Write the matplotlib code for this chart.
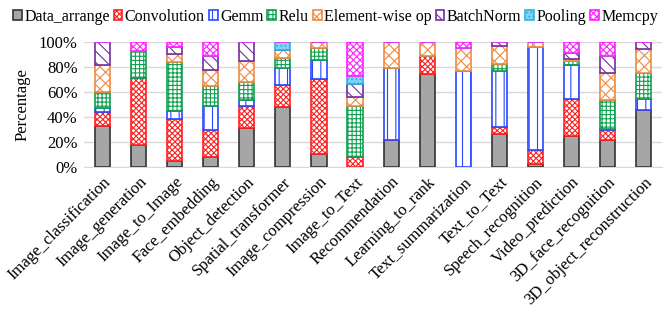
import matplotlib.pyplot as plt
import matplotlib.font_manager as fm
import numpy as np

# use a Times-like font; load the file directly in case the name lookup misses it
serif_name = 'Liberation Serif'
for p in fm.findSystemFonts():
    if 'LiberationSerif-Regular' in p:
        fm.fontManager.addfont(p)
        serif_name = fm.FontProperties(fname=p).get_name()
        break
plt.rcParams['font.family'] = [serif_name, 'DejaVu Serif']
plt.rcParams['hatch.linewidth'] = 0.8

apps = ['Image_classification', 'Image_generation', 'Image_to_Image', 'Face_embedding',
        'Object_detection', 'Spatial_transformer', 'Image_compression', 'Image_to_Text',
        'Recommendation', 'Learning_to_rank', 'Text_summarization', 'Text_to_Text',
        'Speech_recognition', 'Video_prediction', '3D_face_recognition',
        '3D_object_reconstruction']

data_arrange = [33.0, 17.8, 4.5, 7.7, 30.9, 48.1, 10.4, 0.0, 21.3, 73.9, 0.0, 26.3, 2.4, 25.0, 21.3, 45.5]
convolution = [10.6, 52.9, 34.1, 21.6, 18.0, 17.1, 59.5, 8.0, 0.0, 14.9, 0.0, 5.3, 11.4, 29.5, 8.2, 0.0]
gemm = [3.7, 0.0, 6.1, 19.6, 4.8, 14.1, 15.5, 0.0, 58.0, 0.0, 76.9, 45.3, 82.2, 27.1, 1.1, 9.0]
relu = [12.8, 22.1, 39.1, 16.0, 14.4, 7.4, 9.6, 40.9, 0.0, 0.0, 0.0, 5.5, 0.0, 3.2, 22.9, 20.5]
elementwise = [21.6, 0.0, 6.1, 12.8, 16.5, 6.7, 5.0, 7.2, 20.7, 11.2, 18.3, 14.4, 4.0, 1.1, 21.2, 19.1]
batchnorm = [18.3, 0.0, 6.1, 11.1, 15.4, 0.0, 0.0, 9.9, 0.0, 0.0, 0.0, 3.2, 0.0, 4.8, 14.1, 5.9]
pooling = [0.0, 0.0, 0.0, 0.0, 0.0, 6.6, 0.0, 6.6, 0.0, 0.0, 0.0, 0.0, 0.0, 0.0, 0.0, 0.0]
memcpy = [0.0, 7.2, 4.0, 11.2, 0.0, 0.0, 0.0, 27.4, 0.0, 0.0, 4.8, 0.0, 0.0, 9.3, 11.2, 0.0]

series = [
    ('Data_arrange', data_arrange, '#a6a6a6', '#333333', None),
    ('Convolution', convolution, 'white', '#ff2020', 'xxxxxx'),
    ('Gemm', gemm, 'white', '#2848ff', '||'),
    ('Relu', relu, 'white', '#10a050', '++++'),
    ('Element-wise op', elementwise, 'white', '#f08a40', 'xxx'),
    ('BatchNorm', batchnorm, 'white', '#7030a0', '\\\\\\'),
    ('Pooling', pooling, '#7fd4f4', '#30b0e8', '....'),
    ('Memcpy', memcpy, 'white', '#ff20ff', 'xxxxx'),
]

fig = plt.figure(figsize=(6.65, 3.14), dpi=100)
ax = fig.add_axes([0.127, 0.468, 0.868, 0.399])

x = np.arange(len(apps))
bottom = np.zeros(len(apps))
for name, vals, fc, ec, hatch in series:
    v = np.array(vals) / 100.0
    ax.bar(x, v, 0.42, bottom=bottom, color=fc, edgecolor=ec, hatch=hatch,
           linewidth=1.2, label=name, zorder=3)
    bottom += v

ax.set_xlim(-0.5, 15.5)
ax.set_ylim(0, 1.0)
ax.set_yticks(np.arange(0, 1.01, 0.2))
ax.set_yticklabels(['0%', '20%', '40%', '60%', '80%', '100%'], fontsize=12)
ax.set_xticks(x)
ax.set_xticklabels(apps, rotation=45, ha='right', rotation_mode='anchor', fontsize=12)
ax.tick_params(length=0, pad=5)
ax.set_ylabel('Percentage', fontsize=12, labelpad=6)
ax.grid(axis='y', color='#d9d9d9', linewidth=1, zorder=0)
for s in ['top', 'right', 'left']:
    ax.spines[s].set_visible(False)
ax.spines['bottom'].set_color('#d9d9d9')

ax.legend(loc='center', bbox_to_anchor=(0.435, 1.2), ncol=8, frameon=False,
          fontsize=11.5, handlelength=0.55, handleheight=0.55, handletextpad=0.15,
          columnspacing=0.25, borderaxespad=0.0, borderpad=0.0)

fig.savefig('out.png', dpi=100)
